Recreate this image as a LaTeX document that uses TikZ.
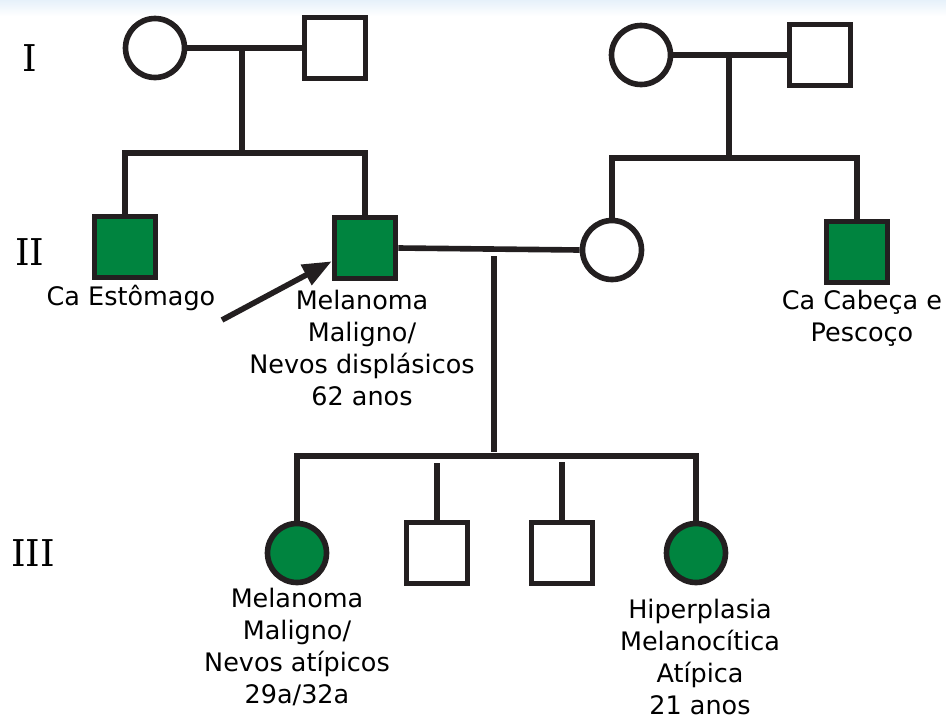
\documentclass[tikz,border=0pt]{standalone}
\usepackage{fontspec}
\setmainfont{DejaVu Sans}
\newfontfamily\genfont{DejaVu Serif}
\usepackage{xcolor}
\definecolor{pedGreen}{HTML}{00843F}
\definecolor{pedInk}{HTML}{231F20}
\definecolor{bandBlue}{HTML}{E6F1FA}
\usetikzlibrary{positioning, calc, arrows.meta}
\tikzset{
    male/.style={draw=pedInk, line width=3.2pt, minimum size=1.22cm, inner sep=0pt},
    female/.style={circle, draw=pedInk, line width=3.2pt, minimum size=1.18cm, inner sep=0pt},
    affected/.style={fill=pedGreen},
    pedline/.style={draw=pedInk, line width=3.2pt},
    caption/.style={align=center, inner sep=0pt, font=\fontsize{14.5}{18.2}\selectfont},
    genlabel/.style={inner sep=0pt, font=\genfont\fontsize{21}{24}\selectfont}
}

\begin{document}
\begin{tikzpicture}[x=0.02cm, y=-0.02cm]
  % page frame and faint band along the top
  \useasboundingbox (0,0) rectangle (946,714);
  \shade[top color=bandBlue, bottom color=white] (0,0) rectangle (946,16);

  % generation numbers
  \node[genlabel] (gI)   at (30,58)  {I};
  \node[genlabel] (gII)  at (30,252) {II};
  \node[genlabel] (gIII) at (33,553) {III};

  % --- generation I
  \node[female] (i1) at (155,48) {};
  \node[male]   (i2) at (335,48) {};
  \node[female] (i3) at (641,55) {};
  \node[male]   (i4) at (820,55) {};

  % --- generation II
  \node[male,affected]   (ii1) at (125,247) {};
  \node[male,affected]   (ii2) at (365,248) {};
  \node[female]          (ii3) at (612,250) {};
  \node[male,affected]   (ii4) at (857,252) {};

  % --- generation III
  \node[female,affected] (iii1) at (297,553) {};
  \node[male]            (iii2) at (437,553) {};
  \node[male]            (iii3) at (562,553) {};
  \node[female,affected] (iii4) at (696,553) {};

  % marriage lines
  \draw[pedline] (i1.east) -- (i2.west);
  \draw[pedline] (i3.east) -- (i4.west);
  \draw[pedline] (ii2.east) -- (ii3.west);

  % descent and sibship lines
  \coordinate (mA) at (242,48);   \coordinate (sA) at (242,153);
  \coordinate (mB) at (729,55);   \coordinate (sB) at (729,158);
  \coordinate (mC) at (494,256);  \coordinate (sC) at (494,452);
  \draw[pedline] (mA) -- (sA);
  \draw[pedline] (mB) -- (sB);
  \draw[pedline] (mC) -- (sC);

  \draw[pedline] (ii1.north) |- (sA) -| (ii2.north);
  \draw[pedline] (ii3.north) |- (sB) -| (ii4.north);
  \draw[pedline] (iii1.north) |- ($(sC)+(0,4)$) -| (iii4.north);
  \draw[pedline] (iii2.north) -- ++(0,-57);
  \draw[pedline] (iii3.north) -- ++(0,-58);

  % proband arrow
  \coordinate (arrTail) at (222,320);
  \draw[pedline, -{Triangle[length=0.58cm, width=0.44cm]}]
    (arrTail) -- ($(ii2.south west)!0.3!(ii2.north west)$);

  % captions
  \node[caption] (cii1) at (131,298) {Ca Estômago};
  \node[caption, anchor=north] (cii2) at (362,290)
    {Melanoma\\Maligno/\\Nevos displásicos\\62 anos};
  \node[caption, anchor=north] (cii4) at (862,290) {Ca Cabeça e\\Pescoço};
  \node[caption, anchor=north] (ciii1) at (297,588) {Melanoma\\Maligno/\\Nevos atípicos\\29a/32a};
  \node[caption, anchor=north] (ciii4) at (700,599) {Hiperplasia\\Melanocítica\\Atípica\\21 anos};
\end{tikzpicture}
\end{document}
